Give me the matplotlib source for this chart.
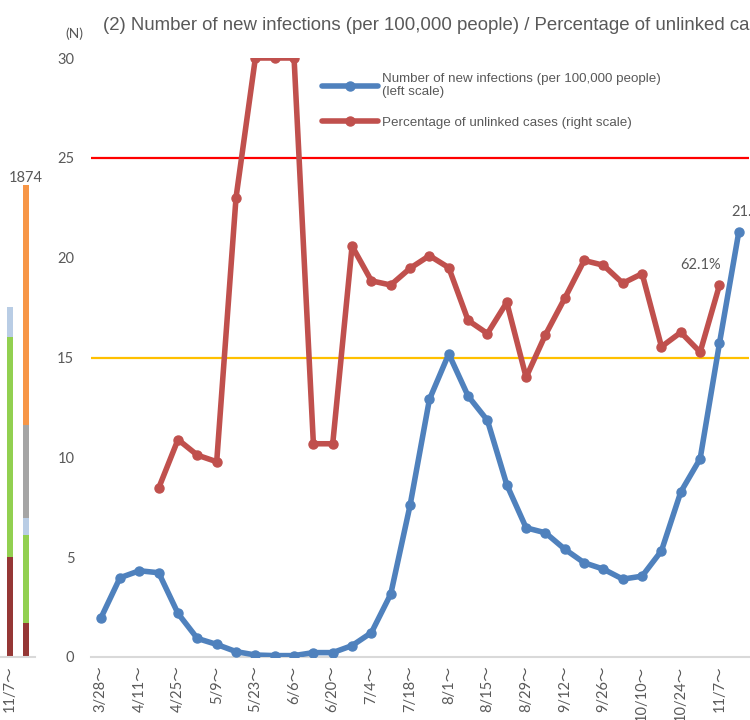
import matplotlib
matplotlib.use("Agg")
import matplotlib.pyplot as plt
import numpy as np

# ---------------- data ----------------
weeks = ["3/28", "4/4", "4/11", "4/18", "4/25", "5/2", "5/9", "5/16", "5/23", "5/30",
         "6/6", "6/13", "6/20", "6/27", "7/4", "7/11", "7/18", "7/25", "8/1", "8/8",
         "8/15", "8/22", "8/29", "9/5", "9/12", "9/19", "9/26", "10/3", "10/10", "10/17",
         "10/24", "10/31", "11/7", "11/14"]

new_infections = [1.93, 3.97, 4.32, 4.22, 2.18, 0.93, 0.63, 0.27, 0.10, 0.07,
                  0.07, 0.22, 0.22, 0.57, 1.22, 3.15, 7.60, 12.90, 15.18, 13.07,
                  11.85, 8.63, 6.47, 6.22, 5.40, 4.72, 4.40, 3.90, 4.05, 5.32,
                  8.27, 9.93, 15.72, 21.3]

unlinked_pct = [None, None, None, 28.2, 36.3, 33.7, 32.6, 76.7, 100.0, 100.0,
                100.0, 35.6, 35.6, 68.6, 62.8, 62.1, 64.9, 67.0, 65.0, 56.2,
                54.0, 59.2, 46.7, 53.8, 59.9, 66.2, 65.4, 62.4, 64.0, 51.8,
                54.2, 50.9, 62.1, None]

threshold_red = 25
threshold_yellow = 15

left_yticks = [0, 5, 10, 15, 20, 25, 30]

# partial stacked bars (cut-off chart on the left)
bar_groups = ["11/7\uff5e", ""]
seg_darkred = [397, 135]
seg_green = [873, 349]
seg_lightblue = [119, 67]
seg_gray = [0, 369]
seg_orange = [0, 953]
bar_total_label = "1874"

title = "(2) Number of new infections (per 100,000 people) / Percentage of unlinked cases"
label_blue = "Number of new infections (per 100,000 people)\n(left scale)"
label_red = "Percentage of unlinked cases (right scale)"

# ---------------- styles ----------------
BLUE = "#4F81BD"
RED = "#C0504D"
TXT = "#595959"
TICKFONT = ["Lato", "Noto Sans CJK JP", "DejaVu Sans"]
ARIAL = ["Liberation Sans", "DejaVu Sans"]

W, H = 750, 720
fig = plt.figure(figsize=(W / 100, H / 100), dpi=100)

def px_axes(x0, x1, ytop, ybot):
    return fig.add_axes([x0 / W, 1 - ybot / H, (x1 - x0) / W, (ybot - ytop) / H])

# ---------------- main chart ----------------
ax = px_axes(91, 748.5, 58, 657)
x = np.arange(len(weeks))
ax.set_xlim(-0.5, len(weeks) - 0.5)
ax.set_ylim(0, 30)

ax.axhline(threshold_red, color="#FF0000", lw=1.6, zorder=1)
ax.axhline(threshold_yellow, color="#FFC000", lw=1.6, zorder=1)

ax.plot(x, new_infections, color=BLUE, lw=4.0, marker="o", ms=6.5,
        solid_capstyle="round", solid_joinstyle="round", zorder=3, label=label_blue)

for s in ["top", "right", "left"]:
    ax.spines[s].set_visible(False)
ax.spines["bottom"].set_color("#D9D9D9")
ax.spines["bottom"].set_linewidth(1.5)

ax.set_yticks(left_yticks)
ax.set_yticklabels([str(v) for v in left_yticks], fontfamily=TICKFONT, fontsize=10.5, color=TXT)
ax.tick_params(axis="y", length=0, pad=12)
ax.set_xticks(x[::2])
ax.set_xticklabels([w + "\uff5e" for w in weeks[::2]], rotation=90,
                   fontfamily=TICKFONT, fontsize=10.5, color=TXT)
ax.tick_params(axis="x", length=0, pad=6)

ax2 = ax.twinx()
ax2.set_ylim(0, 100)
ax2.set_axis_off()
red_vals = np.array([np.nan if v is None else v for v in unlinked_pct], dtype=float)
ax2.plot(x, red_vals, color=RED, lw=4.0, marker="o", ms=6.5,
         solid_capstyle="round", solid_joinstyle="round", zorder=3, label=label_red)

# data labels
last_red = max(i for i, v in enumerate(unlinked_pct) if v is not None)
ax2.annotate(f"{unlinked_pct[last_red]:.1f}%", xy=(x[last_red], unlinked_pct[last_red]),
             xytext=(-19, 13), textcoords="offset pixels", ha="center", va="bottom",
             fontfamily=TICKFONT, fontsize=10.5, color=TXT)
ax.annotate(f"{new_infections[-1]:.1f}", xy=(x[-1], new_infections[-1]),
            xytext=(-8, 13), textcoords="offset pixels", ha="left", va="bottom",
            fontfamily=TICKFONT, fontsize=10.5, color=TXT, annotation_clip=False)

# legend
h1, l1 = ax.get_legend_handles_labels()
h2, l2 = ax2.get_legend_handles_labels()
leg = ax2.legend(h1 + h2, l1 + l2, loc="upper left",
                 bbox_to_anchor=(322 / W, 1 - 73 / H), bbox_transform=fig.transFigure,
                 frameon=False, borderpad=0, borderaxespad=0, handlelength=4.2,
                 handletextpad=0.3, labelspacing=1.35,
                 prop={"family": ARIAL, "size": 9.6})
for t in leg.get_texts():
    t.set_color(TXT)
    t.set_linespacing(1.15)

# title & unit
fig.text(103 / W, 1 - 26 / H, title, ha="left", va="center",
         fontfamily=ARIAL, fontsize=13.4, color=TXT)
fig.text(74 / W, 1 - 34 / H, "(N)", ha="center", va="center",
         fontfamily=TICKFONT, fontsize=10, color=TXT)

# ---------------- cut-off bars on the left ----------------
axb = px_axes(0, 35, 58, 657)
bx = np.arange(len(bar_groups))
axb.set_xlim(-0.625, 1.5625)
axb.set_ylim(0, 599 * 1874 / 472)
bottom = np.zeros(len(bar_groups))
for seg, col in [(seg_darkred, "#953735"), (seg_green, "#92D050"),
                 (seg_lightblue, "#B9CDE5"), (seg_gray, "#A5A5A5"), (seg_orange, "#F79646")]:
    axb.bar(bx, seg, width=0.375, bottom=bottom, color=col, zorder=2)
    bottom = bottom + np.array(seg)
axb.text(bx[1], bottom[1], bar_total_label, ha="center", va="bottom",
         fontfamily=TICKFONT, fontsize=10.5, color=TXT)
for s in ["top", "right", "left"]:
    axb.spines[s].set_visible(False)
axb.spines["bottom"].set_color("#D9D9D9")
axb.spines["bottom"].set_linewidth(1.5)
axb.set_yticks([])
axb.set_xticks([bx[0]])
axb.set_xticklabels([bar_groups[0]], rotation=90, fontfamily=TICKFONT, fontsize=10.5, color=TXT)
axb.tick_params(axis="x", length=0, pad=6)

fig.savefig("out.png", dpi=100)
